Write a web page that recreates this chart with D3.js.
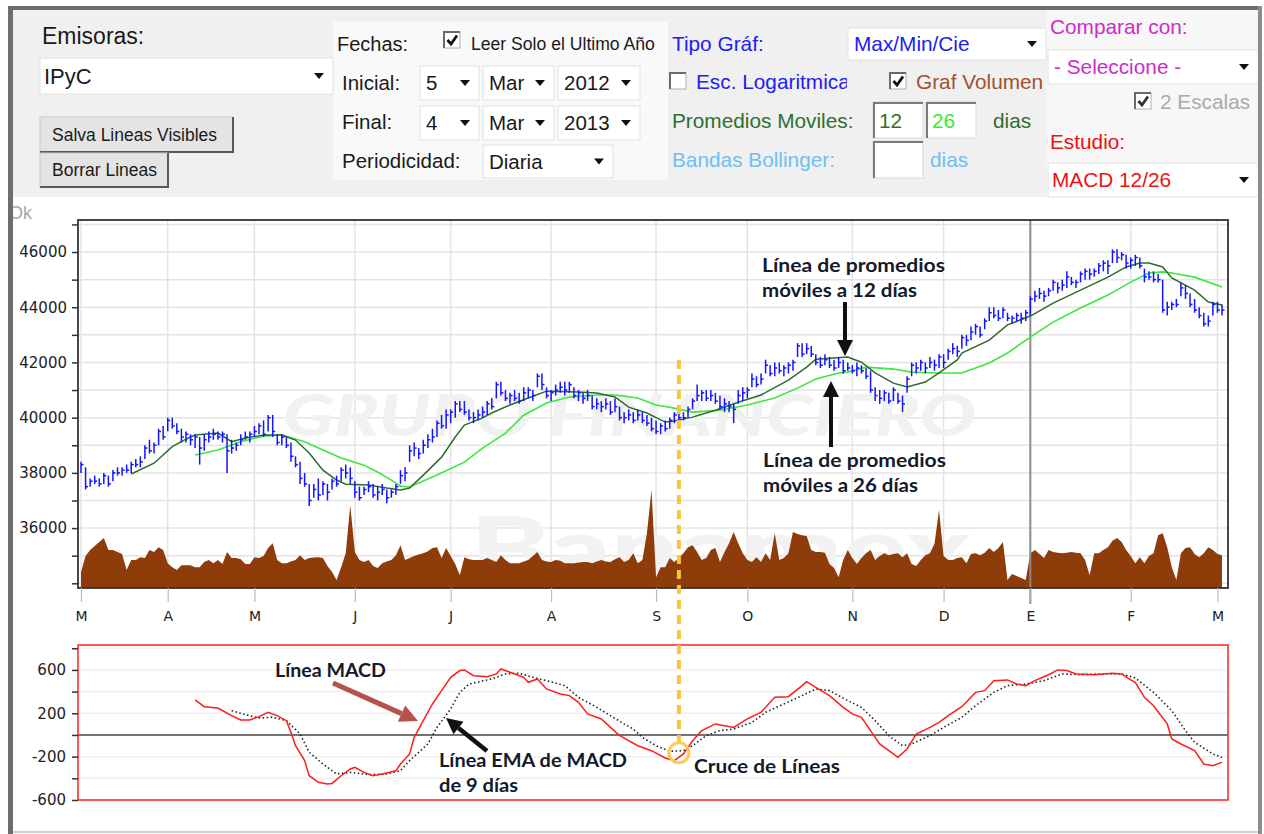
<!DOCTYPE html>
<html><head><meta charset="utf-8">
<script src="https://cdn.jsdelivr.net/npm/d3@7"></script>
<style>body{margin:0;background:#fff}svg{display:block}</style>
</head><body>
<svg id="c" width="1264" height="834"></svg>
<script>
// ---------------- DATA ----------------
const monthLabels = ["M","A","M","J","J","A","S","O","N","D","E","F","M"];
const monthDays = [0,19,38,60,81,103,126,146,169,189,208,230,249];
const yearStartDay = 208;
const priceTicks = [36000,38000,40000,42000,44000,46000];
const macdTicks = [-600,-200,200,600];

const hi = [38400,38200,37800,37900,37800,38000,37900,38100,38200,38200,
38300,38400,38500,38600,39000,39200,39100,39600,39700,40000,
40000,39800,39600,39500,39400,39400,39300,39400,39500,39600,
39500,39500,39400,39200,39100,39400,39500,39500,39700,39800,
39900,40100,40100,39400,39400,39300,39100,38600,38400,38000,
37600,37600,37800,37700,37600,37800,37900,38200,38300,38200,
37700,37500,37500,37700,37600,37500,37600,37400,37400,37600,
38100,38200,39000,39100,38900,39200,39400,39600,39900,40100,
40300,40300,40600,40600,40600,40300,40200,40300,40400,40600,
40700,41300,41300,41000,40900,41000,40900,41100,41100,41000,
41600,41600,41100,41000,41200,41300,41300,41300,41100,41000,
40900,41000,40800,40700,40600,40700,40600,40700,40400,40200,
40300,40200,40300,40200,40100,40000,39900,39800,39900,40000,
40200,40300,40200,40400,40700,41200,41000,41000,41000,40900,
40800,40700,40600,40500,41000,41100,41100,41600,41500,41600,
42100,41900,42000,42000,41900,42000,42100,42700,42700,42700,
42600,42300,42200,42300,42200,42100,42200,42100,42000,41900,
42000,41900,41800,41700,41100,41000,41000,40900,41100,40900,
40800,41500,42000,42000,42100,42000,42200,42100,42300,42300,
42500,42700,42600,43000,43000,43300,43400,43300,43600,44000,
44000,43900,44000,43800,43700,43800,43800,43900,44400,44600,
44700,44600,44700,45000,44900,45000,45300,45100,45000,45300,
45400,45400,45400,45600,45700,45700,46100,46100,46000,45900,
45800,45900,45800,45400,45300,45300,45200,45000,44200,44200,
44300,44900,44800,44500,44300,44000,43800,43700,44200,44200,
44100];
const lo = [38000,37400,37500,37600,37500,37600,37500,37700,37900,37900,
38000,38000,38200,38200,38500,38700,38700,39000,39200,39500,
39600,39400,39100,39100,39000,38900,38300,38800,39100,39200,
39200,39100,38000,38700,38800,39000,39200,39100,39300,39400,
39300,39500,39300,39000,39000,38900,38400,38200,37600,37500,
36800,37100,37000,37200,37000,37400,37500,37700,37800,37600,
37100,37000,37200,37300,37100,37000,37200,36900,37100,37200,
37600,37700,38400,38600,38500,38700,38900,39100,39300,39600,
39600,39800,40000,40200,40100,39900,39800,39900,40000,40100,
40300,40700,40800,40600,40500,40600,40500,40600,40700,40600,
41100,41000,40700,40600,40800,40900,40800,40900,40700,40600,
40500,40600,40300,40300,40200,40300,40100,40200,39900,39800,
39900,39800,39900,39800,39700,39500,39400,39400,39500,39600,
39800,39900,39900,40000,40300,40600,40600,40600,40600,40500,
40300,40200,40200,39800,40500,40600,40700,41100,41100,41200,
41600,41500,41500,41600,41500,41600,41700,42200,42200,42300,
42200,41900,41800,41900,41800,41700,41800,41600,41700,41600,
41500,41600,41400,40900,40600,40500,40600,40500,40600,40500,
40200,40900,41500,41600,41700,41600,41800,41700,41800,41800,
42100,42300,42200,42500,42600,42800,43000,42900,43200,43500,
43600,43500,43600,43500,43400,43500,43400,43500,43700,44200,
44300,44200,44400,44600,44500,44600,44700,44800,44700,44900,
45000,45000,45100,45200,45300,45200,45600,45600,45700,45400,
45400,45500,45400,44900,45000,44900,44900,43800,43700,43900,
44000,44400,44300,44000,43800,43600,43300,43300,43700,43800,
43700];
const cl = [38300,37500,37700,37700,37600,37900,37600,38000,38000,38100,
38100,38300,38300,38400,38900,38800,39000,39500,39300,39900,
39700,39500,39300,39400,39200,39300,38900,39200,39300,39400,
39300,39400,38800,38900,39000,39200,39300,39400,39500,39700,
39400,40000,39500,39100,39300,39000,38600,38300,37800,37600,
37000,37400,37200,37600,37300,37700,37600,38100,38000,37800,
37300,37100,37400,37500,37200,37300,37400,37100,37300,37500,
37900,38000,38800,38900,38700,39000,39200,39300,39800,39700,
40100,40200,40500,40300,40200,40000,40000,40100,40200,40500,
40400,41200,40900,40700,40800,40700,40600,40900,41000,40800,
41500,41200,40800,40900,41000,41100,41000,41200,40800,40900,
40700,40800,40400,40500,40400,40500,40200,40400,40000,40000,
40100,39900,40100,39900,39800,39600,39500,39700,39600,39900,
40100,40000,40000,40300,40600,40800,40900,40700,40800,40600,
40400,40500,40400,40300,40800,40900,41000,41400,41200,41400,
41900,41600,41800,41700,41800,41900,42000,42600,42300,42500,
42300,42000,41900,42100,41900,41800,42000,41700,41800,41700,
41800,41700,41500,41000,40800,40700,40900,40600,41000,40600,
40500,41400,41900,41800,42000,41800,42000,41900,42200,42000,
42400,42500,42400,42900,42800,43100,43300,43000,43500,43800,
43700,43600,43900,43600,43600,43700,43600,43800,44300,44400,
44500,44400,44600,44900,44700,44800,45100,44900,44900,45200,
45300,45200,45300,45500,45600,45500,46000,45800,45900,45600,
45700,45800,45500,45100,45100,45000,45000,43900,44000,44100,
44100,44700,44500,44100,43900,43700,43400,43500,44100,43900,
43900];
const vol = [40,80,95,105,115,125,95,95,90,85,
45,70,70,77,75,95,90,102,95,62,
52,45,57,57,57,52,52,65,70,62,
70,60,90,75,75,72,60,60,77,75,
80,100,112,70,62,62,66,70,82,70,
75,76,77,75,55,40,20,52,87,207,
90,70,65,70,55,50,62,66,70,82,
107,70,75,80,84,87,92,100,102,75,
100,80,60,32,77,72,70,70,70,75,
70,65,82,70,62,62,62,66,70,80,
90,70,66,65,70,68,62,62,62,64,
65,65,62,66,70,66,65,72,77,65,
70,87,62,70,137,245,27,52,52,75,
65,75,87,102,107,90,70,75,95,100,
65,90,112,140,112,87,70,65,77,65,
87,70,137,70,75,87,140,135,132,130,
95,90,90,88,60,50,27,70,95,75,
60,75,87,95,70,80,87,82,85,87,
77,87,60,55,70,82,87,110,195,80,
70,70,75,77,62,85,87,82,88,100,
90,100,115,20,35,30,25,20,87,95,
85,75,95,90,88,87,88,90,88,87,
70,32,87,87,95,102,118,125,115,95,
80,62,77,62,80,87,132,137,102,52,
20,87,100,102,85,77,87,102,95,85,
82];
const ma12Day = [11,16,20,23,25,30,33,36,40,44,47,50,53,56,58,63,67,70,72,75,79,82,84,88,90,94,98,102,109,113,117,120,124,128,130,134,139,144,149,155,159,161,168,171,174,178,181,185,188,192,193,199,203,208,213,219,225,229,232,234,237,239,244,247,250];
const ma12 = [37960,38350,38950,39220,39370,39440,39130,39260,39370,39370,39190,38720,38100,37740,37590,37560,37450,37380,37450,37920,38570,39300,39730,39990,40170,40460,40710,40960,40930,40890,40750,40380,40170,39840,39880,40020,40270,40560,40820,41360,41830,42120,42200,42010,41620,41250,41110,41290,41620,42090,42340,42810,43360,43680,44150,44620,45090,45460,45600,45600,45460,45060,44620,44190,44080];
const ma26Day = [25,30,35,40,44,49,53,57,62,65,68,70,72,78,84,88,93,97,102,107,113,117,122,126,129,134,140,146,152,157,161,166,168,172,178,182,188,193,199,203,208,213,219,225,230,234,237,239,244,250];
const ma26 = [38650,38830,39130,39330,39370,39130,38830,38540,38280,38030,37740,37520,37490,37920,38390,38900,39440,40090,40530,40750,40820,40820,40710,40460,40380,40200,40270,40460,40710,41070,41400,41620,41650,41830,41760,41650,41620,41620,41980,42340,42920,43460,43970,44440,44910,45240,45280,45240,45090,44730];
const macdDay = [25,27,30,33,35,37,39,41,43,45,46,47,49,50,52,54,55,57,59,60,62,64,66,69,70,72,73,75,77,79,81,83,84,86,89,91,92,94,97,98,100,102,105,107,109,111,114,116,118,120,122,125,128,130,132,134,136,139,141,143,146,149,152,155,158,159,161,164,167,169,171,173,175,177,179,181,183,186,188,190,193,196,198,200,203,205,207,209,212,214,216,218,222,226,228,230,231,233,235,238,239,241,244,246,248,250];
const macd = [323,261,249,178,138,138,169,209,178,132,24,-99,-237,-376,-437,-452,-447,-376,-314,-299,-345,-376,-360,-330,-268,-175,-22,132,286,409,532,594,600,547,538,563,609,578,532,486,517,425,378,363,301,194,148,70,-5,-53,-99,-145,-212,-237,-175,-53,40,102,86,70,148,209,347,353,455,492,440,363,255,194,163,40,-83,-145,-207,-129,9,70,116,178,261,393,409,501,508,470,455,501,556,600,594,563,556,569,563,508,486,347,270,102,-37,-83,-145,-268,-283,-253];
const sigDay = [33,36,39,42,45,48,50,53,56,59,63,67,70,72,76,78,81,83,85,90,93,96,99,102,106,109,113,116,119,121,123,126,129,132,134,137,140,143,147,150,154,158,161,164,168,171,174,177,180,182,186,189,193,196,200,203,207,211,215,219,223,228,231,235,239,242,244,248,250];
const sig = [224,187,157,163,132,9,-160,-268,-360,-345,-366,-360,-330,-237,-83,70,240,393,470,517,563,569,532,501,455,347,255,178,102,55,-22,-99,-151,-145,-99,-6,40,55,116,209,286,363,425,409,317,255,132,-6,-99,-83,-6,70,163,270,393,455,470,501,563,556,563,563,526,393,224,40,-68,-175,-207];
const crossDay = 131, crossVal = -165;

// ---------------- LAYOUT ----------------
const svg = d3.select("#c");
const AX = "DejaVu Sans, sans-serif";
const UI = "Liberation Sans, Arial, sans-serif";
const AN = "Lato, Open Sans, sans-serif";

svg.append("rect").attr("width",1264).attr("height",834).attr("fill","#fff");
svg.append("rect").attr("x",13).attr("y",10).attr("width",1245).attr("height",187).attr("fill","#f0f0f0");
svg.append("rect").attr("x",333).attr("y",22).attr("width",335).attr("height",158).attr("fill","#f9f9f9");
svg.append("rect").attr("x",1046).attr("y",10).attr("width",212).attr("height",187).attr("fill","#f7f7f7");

function txt(x,y,s,size,color,extra){
  const t = svg.append("text").attr("x",x).attr("y",y).attr("font-family",UI)
    .attr("font-size",size).attr("fill",color).text(s);
  if(extra) extra(t);
  return t;
}
function tri(cx,cy){
  svg.append("path").attr("d",`M${cx-5},${cy-3}L${cx+5},${cy-3}L${cx},${cy+3}Z`).attr("fill","#111");
}
function selectBox(x,y,w,h,label,color,size,tx){
  svg.append("rect").attr("x",x).attr("y",y).attr("width",w).attr("height",h).attr("fill","#fff").attr("stroke","#e2e2e2");
  txt(x+(tx||6),y+h/2+size*0.36,label,size,color);
  svg.append("rect").attr("x",x+w-27).attr("y",y+2).attr("width",25).attr("height",h-4).attr("fill","#fff");
  tri(x+w-14,y+h/2);
}
function checkbox(x,y,checked,col){
  svg.append("rect").attr("x",x).attr("y",y).attr("width",16).attr("height",16).attr("fill","#fff").attr("stroke","#b0b0b0");
  svg.append("path").attr("d",`M${x},${y+16}V${y}H${x+16}`).attr("fill","none").attr("stroke","#6a6a6a").attr("stroke-width",2);
  if(checked) svg.append("path").attr("d",`M${x+3.5},${y+8}L${x+7},${y+12}L${x+13},${y+3.5}`)
    .attr("fill","none").attr("stroke",col||"#111").attr("stroke-width",2.8);
}
function inputBox(x,y,w,h){
  svg.append("rect").attr("x",x).attr("y",y).attr("width",w).attr("height",h).attr("fill","#fff").attr("stroke","#d8d8d8");
  svg.append("path").attr("d",`M${x+1},${y+h}V${y+1}H${x+w}`).attr("fill","none").attr("stroke","#7a7a7a").attr("stroke-width",2);
}
function button(x,y,w,h,label){
  svg.append("rect").attr("x",x).attr("y",y).attr("width",w).attr("height",h).attr("fill","#e4e4e4").attr("stroke","#c8c8c8");
  svg.append("path").attr("d",`M${x},${y+h}H${x+w}V${y}`).attr("fill","none").attr("stroke","#5a5a5a").attr("stroke-width",2);
  txt(x+12,y+h/2+6,label,17.5,"#1a1a1a");
}

txt(42,44,"Emisoras:",23,"#1a1a1a");
selectBox(40,58,293,36,"IPyC","#1a1a1a",22,4);
button(40,117,193,35,"Salva Lineas Visibles");
button(40,153,128,34,"Borrar Lineas");

txt(337,51,"Fechas:",20,"#1a1a1a");
checkbox(444,32,true);
txt(471,50,"Leer Solo el Ultimo Año",17.6,"#1a1a1a");
txt(342,90,"Inicial:",20.5,"#1a1a1a");
txt(342,129,"Final:",20.5,"#1a1a1a");
txt(342,168,"Periodicidad:",20.5,"#1a1a1a");
selectBox(420,66,59,34,"5","#1a1a1a",20.5);
selectBox(483,66,71,34,"Mar","#1a1a1a",20.5);
selectBox(558,66,82,34,"2012","#1a1a1a",20.5);
selectBox(420,106,59,34,"4","#1a1a1a",20.5);
selectBox(483,106,71,34,"Mar","#1a1a1a",20.5);
selectBox(558,106,82,34,"2013","#1a1a1a",20.5);
selectBox(483,145,130,33,"Diaria","#1a1a1a",20.5);

const FS = 20.8;
txt(672,51,"Tipo Gráf:",FS,"#2020f0");
selectBox(848,28,198,32,"Max/Min/Cie","#2020f0",FS);
checkbox(670,73,false);
svg.append("clipPath").attr("id","clipLog").append("rect").attr("x",690).attr("y",60).attr("width",157).attr("height",40);
txt(696,89,"Esc. Logaritmica",FS,"#2020f0",t=>t.attr("clip-path","url(#clipLog)"));
checkbox(890,73,true);
txt(916,89,"Graf Volumen",FS,"#a0522d");
txt(672,128,"Promedios Moviles:",FS,"#2f6f2f");
inputBox(873,102,50,36);
inputBox(926,102,50,36);
txt(879,128,"12",FS,"#2f6f2f");
txt(932,128,"26",FS,"#33ee33");
txt(993,128,"dias",FS,"#2f6f2f");
txt(672,167,"Bandas Bollinger:",FS,"#6ec0f0");
inputBox(873,141,50,37);
txt(930,167,"dias",FS,"#6ec0f0");

txt(1050,34,"Comparar con:",FS,"#cc2ccc");
selectBox(1048,50,210,34,"- Seleccione -","#cc2ccc",FS);
checkbox(1135,93,true,"#333");
txt(1160,109,"2 Escalas",FS,"#aaaaaa");
txt(1050,149,"Estudio:",FS,"#ee1111");
selectBox(1048,163,210,34,"MACD 12/26","#ee1111",FS,4);

txt(9,219,"Ok",18,"#a8a8a8");

// ---------------- MAIN CHART ----------------
const X0=78, X1=1228, Y0=220, Y1=588;
const x = d3.scaleLinear().domain([0,250]).range([81,1222]);
const yP = d3.scaleLinear().domain([33830,47160]).range([Y1,Y0]);
const yV = d3.scaleLinear().domain([0,300]).range([Y1,468]);
const yM = d3.scaleLinear().domain([-600,830]).range([800,645]);

const main = svg.append("g");
main.append("rect").attr("x",X0).attr("y",Y0).attr("width",X1-X0).attr("height",Y1-Y0).attr("fill","#fff");
const gTicks = d3.range(34000,47001,1000);
main.selectAll(".hg").data(gTicks).join("line").attr("x1",X0).attr("x2",X1)
  .attr("y1",d=>yP(d)).attr("y2",d=>yP(d)).attr("stroke","#e4e4e4").attr("stroke-width",1.5);
main.selectAll(".vg").data(monthDays.filter(d=>d!==yearStartDay)).join("line")
  .attr("x1",d=>x(d)).attr("x2",d=>x(d)).attr("y1",Y0).attr("y2",Y1).attr("stroke","#e4e4e4").attr("stroke-width",1.5);

// watermark
main.append("text").attr("x",283).attr("y",436).attr("font-family",AN).attr("font-weight",900).attr("font-style","italic")
  .attr("font-size",58).attr("fill","#f1f1f1").attr("textLength",693).attr("lengthAdjust","spacingAndGlyphs").text("GRUPO FINANCIERO");
main.append("text").attr("x",470).attr("y",580).attr("font-family",AN).attr("font-weight",900)
  .attr("font-size",88).attr("fill","#f2f2f2").attr("textLength",500).attr("lengthAdjust","spacingAndGlyphs").text("Banamex");

// volume
const days = d3.range(vol.length);
main.append("path").datum(days).attr("fill","#8f3c0b")
  .attr("d",d3.area().x(d=>x(d)).y0(Y1).y1(d=>yV(vol[d])));

main.append("line").attr("x1",x(yearStartDay)).attr("x2",x(yearStartDay)).attr("y1",Y0).attr("y2",604)
  .attr("stroke","#8a8a8a").attr("stroke-width",2);

main.append("path").datum(d3.range(ma26.length)).attr("fill","none").attr("stroke","#3be83b").attr("stroke-width",1.6)
  .attr("d",d3.line().x(i=>x(ma26Day[i])).y(i=>yP(ma26[i])));
main.append("path").datum(d3.range(ma12.length)).attr("fill","none").attr("stroke","#2f6b2f").attr("stroke-width",1.5)
  .attr("d",d3.line().x(i=>x(ma12Day[i])).y(i=>yP(ma12[i])));

const bars = main.append("g").attr("stroke","#1414ff").attr("stroke-width",1.5);
bars.selectAll(".b").data(days).join("line")
  .attr("x1",d=>x(d)).attr("x2",d=>x(d)).attr("y1",d=>yP(hi[d])).attr("y2",d=>yP(lo[d]));
bars.selectAll(".c").data(days).join("line")
  .attr("x1",d=>x(d)).attr("x2",d=>x(d)+2.5).attr("y1",d=>yP(cl[d])).attr("y2",d=>yP(cl[d]));

main.append("rect").attr("x",X0).attr("y",Y0).attr("width",X1-X0).attr("height",Y1-Y0)
  .attr("fill","none").attr("stroke","#333").attr("stroke-width",1.8);

const yAx = d3.axisLeft(yP).tickValues(gTicks).tickSize(6).tickPadding(5)
  .tickFormat(d=>priceTicks.includes(d)?String(d):"");
const ga = svg.append("g").attr("transform",`translate(${X0},0)`).call(yAx);
ga.select(".domain").remove();
ga.selectAll("line").attr("stroke","#333").attr("stroke-width",1.5);
ga.selectAll("text").attr("font-family",AX).attr("font-size",15).attr("fill","#222");

const xAx = d3.axisBottom(x).tickValues(monthDays).tickSize(14).tickPadding(9)
  .tickFormat((d,i)=>monthLabels[i]);
const gx = svg.append("g").attr("transform",`translate(0,${Y1})`).call(xAx);
gx.select(".domain").remove();
gx.selectAll("line").attr("stroke","#bbb").attr("stroke-width",1.2);
gx.selectAll("text").attr("font-family",AX).attr("font-size",14).attr("fill","#222");

// ---------------- MACD PANEL ----------------
const mp = svg.append("g");
mp.append("rect").attr("x",X0).attr("y",645).attr("width",X1-X0).attr("height",155).attr("fill","#fff");
const mGrid = [-400,-200,200,400,600,800];
mp.selectAll(".mg").data(mGrid).join("line").attr("x1",X0).attr("x2",X1)
  .attr("y1",d=>yM(d)).attr("y2",d=>yM(d)).attr("stroke","#f0f0f0").attr("stroke-width",1.5);
mp.append("line").attr("x1",X0).attr("x2",X1).attr("y1",yM(0)).attr("y2",yM(0)).attr("stroke","#444").attr("stroke-width",1.6);
mp.append("path").datum(d3.range(sig.length)).attr("fill","none").attr("stroke","#222").attr("stroke-width",1.6)
  .attr("stroke-dasharray","1.5,2.5").attr("d",d3.line().x(i=>x(sigDay[i])).y(i=>yM(sig[i])));
mp.append("path").datum(d3.range(macd.length)).attr("fill","none").attr("stroke","#ff1c1c").attr("stroke-width",1.5)
  .attr("d",d3.line().x(i=>x(macdDay[i])).y(i=>yM(macd[i])));
mp.append("rect").attr("x",X0).attr("y",645).attr("width",X1-X0).attr("height",155)
  .attr("fill","none").attr("stroke","#ff2020").attr("stroke-width",1.5);
const mAx = d3.axisLeft(yM).tickValues(d3.range(-600,801,200)).tickSize(6).tickPadding(6)
  .tickFormat(d=>macdTicks.includes(d)?String(d):"");
const gm = svg.append("g").attr("transform",`translate(${X0},0)`).call(mAx);
gm.select(".domain").remove();
gm.selectAll("line").attr("stroke","#333").attr("stroke-width",1.5);
gm.selectAll("text").attr("font-family",AX).attr("font-size",15).attr("fill","#222");

// ---------------- ANNOTATIONS ----------------
const an = svg.append("g");
an.append("line").attr("x1",x(crossDay)).attr("x2",x(crossDay)).attr("y1",360).attr("y2",yM(crossVal)-10)
  .attr("stroke","#f8c63a").attr("stroke-width",4).attr("stroke-dasharray","9,6");
an.append("circle").attr("cx",x(crossDay)).attr("cy",yM(crossVal)).attr("r",10)
  .attr("fill","none").attr("stroke","#f9cd55").attr("stroke-width",3);

function arrow(x1,y1,x2,y2,color,w,hw,hl){
  const a = Math.atan2(y2-y1,x2-x1), ca=Math.cos(a), sa=Math.sin(a);
  const bx = x2-ca*hl, by = y2-sa*hl;
  an.append("line").attr("x1",x1).attr("y1",y1).attr("x2",bx).attr("y2",by).attr("stroke",color).attr("stroke-width",w);
  an.append("path").attr("d",`M${x2},${y2}L${bx-sa*hw},${by+ca*hw}L${bx+sa*hw},${by-ca*hw}Z`).attr("fill",color);
}
arrow(845,302,845,356,"#111",4,8,16);
arrow(831,447,831,381,"#111",4,8,16);
arrow(333,683,418,721,"#b5524e",5,9,18);
arrow(487,751,446,718,"#111",4.5,8,16);

function label(xx,yy,s,len){
  an.append("text").attr("x",xx).attr("y",yy).attr("font-family",AN).attr("font-weight",700)
    .attr("font-size",18.5).attr("fill","#141a2a").attr("textLength",len).attr("lengthAdjust","spacingAndGlyphs").text(s);
}
label(762,272,"Línea de promedios",183);
label(762,297,"móviles a 12 días",155);
label(763,467,"Línea de promedios",183);
label(763,492,"móviles a 26 días",155);
label(275,677,"Línea MACD",111);
label(439,767,"Línea EMA de MACD",188);
label(439,792,"de 9 días",79);
label(694,773,"Cruce de Líneas",146);

// outer frame
svg.append("rect").attr("x",8).attr("y",6).attr("width",5).attr("height",828).attr("fill","#6e6e6e");
svg.append("rect").attr("x",8).attr("y",6).attr("width",1254).attr("height",4).attr("fill","#6e6e6e");
svg.append("rect").attr("x",1258).attr("y",6).attr("width",4).attr("height",828).attr("fill","#8c8c8c");
svg.append("rect").attr("x",13).attr("y",831).attr("width",1245).attr("height",2).attr("fill","#d0d0d0");
</script>
</body></html>
